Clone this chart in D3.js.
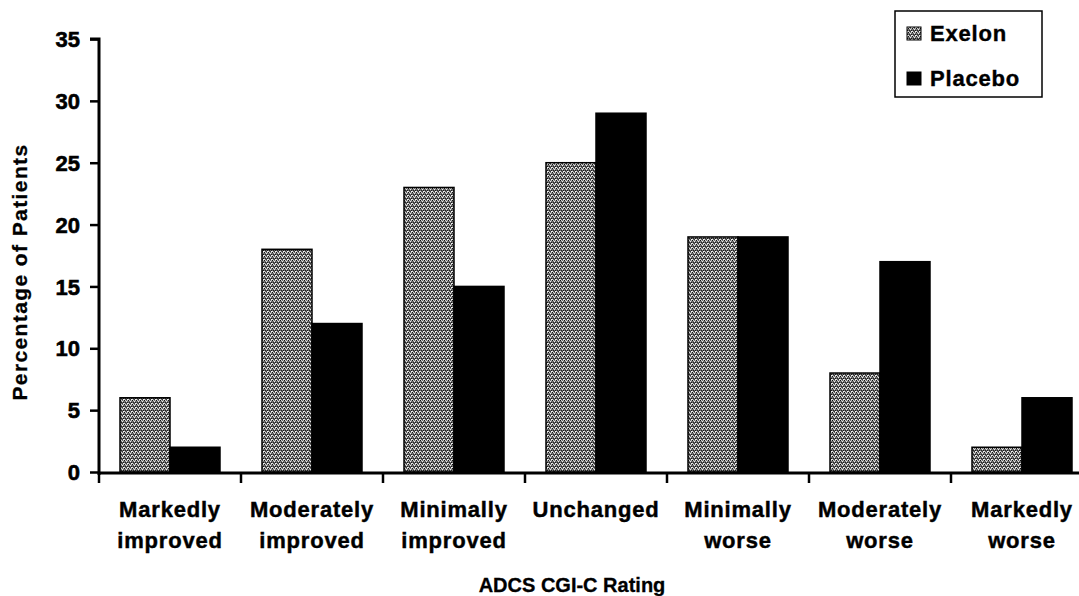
<!DOCTYPE html>
<html><head><meta charset="utf-8">
<script src="https://cdn.jsdelivr.net/npm/d3@7/dist/d3.min.js"></script>
<style>
html,body{margin:0;padding:0;background:#fff;}
text{font-family:"Liberation Sans",Arial,sans-serif;font-weight:bold;fill:#000;stroke:#000;}
</style></head>
<body>
<svg id="chart" width="1079" height="596"></svg>
<script>
const categories = [["Markedly","improved"],["Moderately","improved"],["Minimally","improved"],["Unchanged"],["Minimally","worse"],["Moderately","worse"],["Markedly","worse"]];
const seriesNames = ["Exelon","Placebo"];
const exelon = [6,18,23,25,19,8,2];
const placebo = [2,12,15,29,19,17,6];
const yTicks = [0,5,10,15,20,25,30,35];

const svg = d3.select("#chart");
const defs = svg.append("defs");
const pat = defs.append("pattern").attr("id","stip").attr("patternUnits","userSpaceOnUse").attr("width",4).attr("height",4);
pat.append("rect").attr("width",4).attr("height",4).attr("fill","#6e6e6e");
[[0,0,"#111"],[2,1,"#f0f0f0"],[1,2,"#222"],[3,3,"#f4f4f4"],[3,0,"#bbb"],[0,3,"#e0e0e0"],[2,3,"#333"],[1,0,"#d0d0d0"],[3,2,"#1a1a1a"]].forEach(d=>{
  pat.append("rect").attr("x",d[0]).attr("y",d[1]).attr("width",1).attr("height",1).attr("fill",d[2]);
});

const x0 = 99, x1 = 1093, yBase = 472, yTop = 39;
const keys = categories.map((c,i)=>i);
const x = d3.scaleBand().domain(keys).range([x0,x1]).paddingInner(0).paddingOuter(0);
const xs = d3.scaleBand().domain(seriesNames).range([0,x.bandwidth()]).paddingInner(0).paddingOuter(0.42);
const y = d3.scaleLinear().domain([0,35]).range([yBase,yTop]);

const data = categories.map((c,i)=>({i, vals:[exelon[i],placebo[i]]}));

const g = svg.append("g");
data.forEach(d=>{
  d.vals.forEach((v,j)=>{
    g.append("rect")
      .attr("x", x(d.i)+xs(seriesNames[j]))
      .attr("y", y(v))
      .attr("width", xs.bandwidth())
      .attr("height", y(0)-y(v))
      .attr("fill", j===0 ? "url(#stip)" : "#000")
      .attr("stroke","#000").attr("stroke-width",1.5);
  });
});

// y axis
const yAxis = d3.axisLeft(y).tickValues(yTicks).tickSize(9).tickPadding(10);
const ya = svg.append("g").attr("transform",`translate(${x0},0)`).call(yAxis);
ya.select(".domain").attr("stroke","#000").attr("stroke-width",3).attr("d",`M-9,${yTop}H0V${yBase+3}`);
ya.selectAll(".tick line").attr("stroke","#000").attr("stroke-width",2.5);
ya.selectAll(".tick text").style("font-size","22px").style("font-family","'Liberation Sans',Arial,sans-serif")
  .style("font-weight","bold").style("stroke","#000").style("stroke-width","0.6px").attr("fill","#000").attr("dy","0.35em");

// x axis
const xAxis = d3.axisBottom(x).tickSize(0).tickFormat("");
const xa = svg.append("g").attr("transform",`translate(0,${yBase+1})`).call(xAxis);
xa.select(".domain").attr("stroke","#000").attr("stroke-width",3).attr("d",`M${x0},0H1079`);
xa.selectAll(".tick").remove();
const bounds = keys.map(k=>x(k)).concat([x1]);
xa.selectAll("line.bt").data(bounds.filter(b=>b<1079)).enter().append("line")
  .attr("x1",d=>d).attr("x2",d=>d).attr("y1",0).attr("y2",10).attr("stroke","#000").attr("stroke-width",2.5);

// category labels
data.forEach(d=>{
  const lines = categories[d.i];
  const cx = x(d.i)+x.bandwidth()/2;
  const t = svg.append("text").attr("text-anchor","middle").attr("x",cx).attr("y",517)
    .style("font-size","22px").style("letter-spacing","0.8px").style("stroke-width","0.45px");
  lines.forEach((l,k)=>t.append("tspan").attr("x",cx).attr("dy",k===0?0:31).text(l));
});

// axis titles
svg.append("text").attr("text-anchor","middle").attr("x",572).attr("y",592)
  .style("font-size","20px").style("stroke-width","0.3px").text("ADCS CGI-C Rating");
svg.append("text").attr("text-anchor","middle").attr("transform","translate(27,272) rotate(-90)")
  .style("font-size","21px").style("letter-spacing","1.4px").style("stroke-width","0.3px").text("Percentage of Patients");

// legend
const lg = svg.append("g");
lg.append("rect").attr("x",895).attr("y",11).attr("width",147).attr("height",86).attr("fill","#fff").attr("stroke","#000").attr("stroke-width",1.5);
seriesNames.forEach((s,j)=>{
  const yy = 27 + j*45;
  lg.append("rect").attr("x",907).attr("y",yy).attr("width",14).attr("height",13)
    .attr("fill", j===0?"url(#stip)":"#000").attr("stroke","#000").attr("stroke-width",1);
  lg.append("text").attr("x",930).attr("y",yy+14).style("font-size","22px").style("letter-spacing","0.8px").style("stroke-width","0.4px").text(s);
});
</script>
</body></html>
